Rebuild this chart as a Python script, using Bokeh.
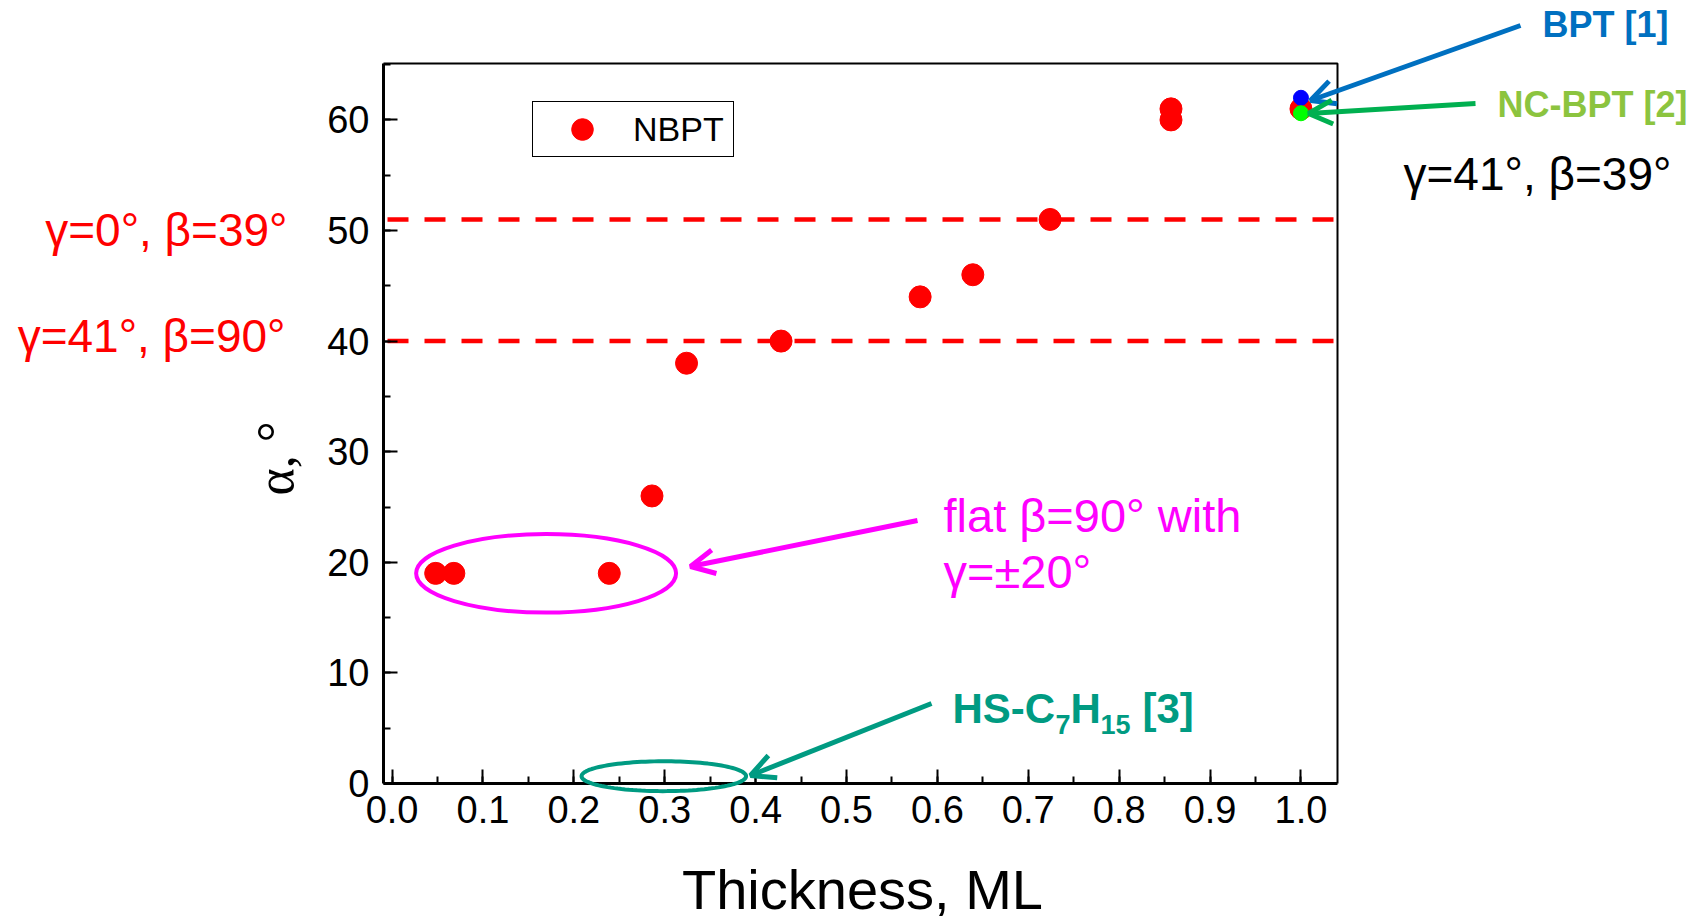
import numpy as np
from bokeh.plotting import figure
from bokeh.models import (Range1d, SingleIntervalTicker, PrintfTickFormatter,
                          Label, Arrow, OpenHead, PolyAnnotation)
from bokeh.embed import file_html
from bokeh.resources import INLINE

# ---------------- data ----------------
nbpt_thickness = [0.048, 0.068, 0.239, 0.286, 0.324, 0.428, 0.581, 0.639, 0.724, 0.857, 0.857, 1.0]
nbpt_alpha = [19, 19, 19, 26, 38, 40, 44, 46, 51, 60, 61, 61]
bpt_thickness = [1.0]
bpt_alpha = [62]
ncbpt_thickness = [1.0]
ncbpt_alpha = [60.6]
ref_lines = [51, 40]

# ---------------- layout ----------------
W, H = 1705, 921
FL, FR, FT, FB = 383, 1337, 63, 783          # plot box in page pixels
XMIN, XMAX = -0.0094, 1.0402                  # data extent of the plot box
YMIN, YMAX = 0.0, 65.1


def px2x(px):
    return XMIN + (px - FL) / (FR - FL) * (XMAX - XMIN)


def px2y(py):
    return YMIN + (FB - py) / (FB - FT) * (YMAX - YMIN)


# the Bokeh frame covers the whole page so that annotations outside the box are not clipped
p = figure(width=W, height=H,
           x_range=Range1d(px2x(0), px2x(W)), y_range=Range1d(px2y(H), px2y(0)),
           output_backend="svg", toolbar_location=None, min_border=0)
p.xgrid.visible = False
p.ygrid.visible = False
p.background_fill_color = "white"
p.border_fill_color = "white"
p.outline_line_color = None

FONT = "Liberation Sans"

for ax in (p.xaxis[0], p.yaxis[0]):
    ax.axis_line_width = 3
    ax.axis_line_color = "black"
    ax.major_tick_in = 14
    ax.major_tick_out = 0
    ax.minor_tick_in = 7
    ax.minor_tick_out = 0
    ax.major_tick_line_width = 2
    ax.minor_tick_line_width = 2
    ax.major_tick_line_color = "black"
    ax.minor_tick_line_color = "black"
    ax.major_label_text_font = FONT
    ax.major_label_text_font_size = "38px"
    ax.major_label_text_color = "black"

xa = p.xaxis[0]
xa.fixed_location = YMIN
xa.bounds = (XMIN, XMAX)
xa.ticker = SingleIntervalTicker(interval=0.1, num_minor_ticks=2)
xa.formatter = PrintfTickFormatter(format="%.1f")
xa.major_label_standoff = 12

ya = p.yaxis[0]
ya.fixed_location = XMIN
ya.bounds = (YMIN, YMAX)
ya.ticker = SingleIntervalTicker(interval=10, num_minor_ticks=2)
ya.major_label_standoff = 14

# top and right border of the box
p.line([XMIN, XMAX, XMAX], [YMAX, YMAX, YMIN], line_color="black", line_width=2)

# reference dashed lines
p.segment(x0=[px2x(387)] * len(ref_lines), x1=[XMAX] * len(ref_lines), y0=ref_lines, y1=ref_lines,
          line_color="#FF0000", line_width=4.5, line_dash="21 16")

# data
p.scatter(nbpt_thickness, nbpt_alpha, size=22, color="#FF0000", legend_label="NBPT")
p.scatter(bpt_thickness, bpt_alpha, size=15, color="#0000FF")
p.scatter(ncbpt_thickness, ncbpt_alpha, size=15, color="#00FF00")

# legend
lg = p.legend[0]
lg.location = (532, H - 157)
lg.glyph_width = 98
lg.glyph_height = 54
lg.label_standoff = 2
lg.label_width = 100
lg.padding = 0
lg.spacing = 0
lg.margin = 0
lg.label_text_font = FONT
lg.label_text_font_size = "34px"
lg.label_text_color = "black"
lg.border_line_color = "black"
lg.border_line_width = 1.5
lg.border_line_alpha = 1
lg.background_fill_color = "white"
lg.background_fill_alpha = 1

# magenta ellipse around flat molecules
MAG = "#FF00FF"
p.ellipse(x=[0.1695], y=[19], width=[0.286], height=[7.1], fill_alpha=0,
          line_color=MAG, line_width=4)

# teal ellipse at zero
TEAL = "#009B82"
t = np.linspace(0, 2 * np.pi, 120)
ecx, ecy, ew, eh = 0.299, 0.66, 0.181, 2.7
p.add_layout(PolyAnnotation(xs=list(ecx + ew / 2 * np.cos(t)), ys=list(ecy + eh / 2 * np.sin(t)),
                            fill_alpha=0, line_color=TEAL, line_alpha=1, line_width=4))


def arrow(x0, y0, x1, y1, c):
    p.add_layout(Arrow(end=OpenHead(size=24, line_color=c, line_width=5),
                       x_start=px2x(x0), y_start=px2y(y0), x_end=px2x(x1), y_end=px2y(y1),
                       line_color=c, line_width=5))


BLUE = "#0070C0"
GREEN = "#00B050"
arrow(1520, 25, 1310, 100, BLUE)
arrow(1475, 103, 1308, 113, GREEN)
arrow(917, 520, 690, 566, MAG)
arrow(931, 703, 750, 775, TEAL)


def label(px, py, text, size, color="black", bold=False, align="left", font=FONT, angle=0.0):
    # py is the vertical middle of the text, in page pixels
    p.add_layout(Label(x=px2x(px), y=px2y(py), text=text, text_font=font,
                       text_font_size=f"{size}px", text_color=color,
                       text_font_style="bold" if bold else "normal",
                       text_align=align, text_baseline="middle", angle=angle))


RED = "#FF0000"
label(287, 229, "γ=0°, β=39°", 46, RED, align="right")
label(285, 335, "γ=41°, β=90°", 46, RED, align="right")
label(1542, 24, "BPT [1]", 36, BLUE, bold=True)
label(1497, 104, "NC-BPT [2]", 36, "#8CC43F", bold=True)
label(1403, 173, "γ=41°, β=39°", 46, "black")
label(943, 515, "flat β=90° with", 47, MAG)
label(943, 571, "γ=±20°", 47, MAG)

# HS-C7H15 [3] with subscripts
hx = 952
label(hx, 708, "HS-C", 42, TEAL, bold=True)
label(hx + 103, 724, "7", 27, TEAL, bold=True)
label(hx + 118, 708, "H", 42, TEAL, bold=True)
label(hx + 148, 724, "15", 27, TEAL, bold=True)
label(hx + 190, 708, "[3]", 42, TEAL, bold=True)

# axis titles
label(862, 889, "Thickness, ML", 56, "black", align="center")
label(275, 458, "α, °", 52, "black", align="center", font="Liberation Serif", angle=np.pi / 2)

open("out.html", "w").write(file_html(p, INLINE))
